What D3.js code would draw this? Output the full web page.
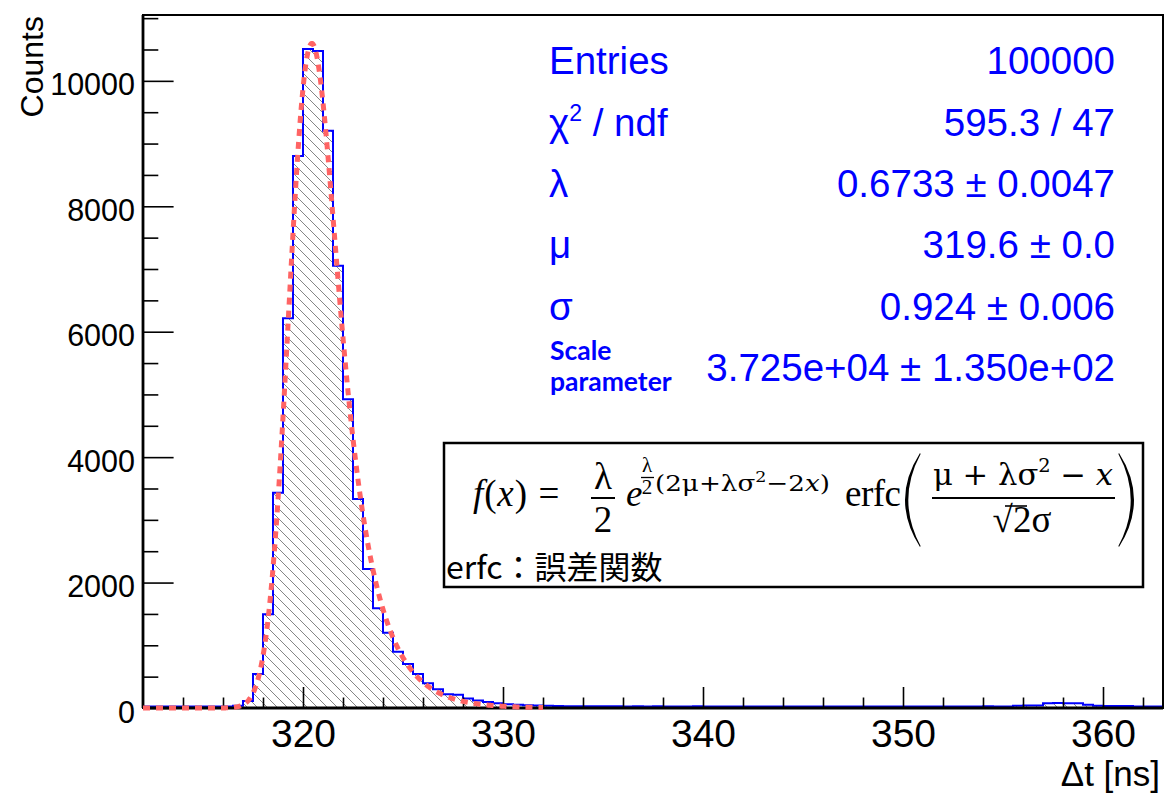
<!DOCTYPE html>
<html>
<head>
<meta charset="utf-8">
<script src="https://cdn.jsdelivr.net/npm/d3@7"></script>
<style>
  html, body { margin: 0; padding: 0; background: #ffffff; }
  svg { display: block; }
</style>
</head>
<body>
<svg id="chart" width="1165" height="795"></svg>
<script>
// ---- Histogram data: Δt in 0.5 ns bins starting at 312 ns ----
const binStart = 312;
const binWidth = 0.5;
const counts = [
  25, 25, 25, 25, 25, 25, 25, 25, 25, 35,          // 312.0 - 316.5
  110, 542, 1494, 3433, 6213, 8802, 10509, 10477,  // 317.0 - 320.5
  9206, 7053, 4923, 3333, 2217, 1590, 1201, 898,   // 321.0 - 324.5
  702, 542, 394, 298, 218, 210, 150, 120,          // 325.0 - 328.5
  95, 75, 60, 50, 45, 40, 35, 30,                  // 329.0 - 332.5
  28, 27, 28, 26, 27, 26, 25, 26, 25, 26,          // 333.0 - 337.5
  25, 24, 25, 26, 25, 24, 25, 25, 24, 25,          // 338.0 - 342.5
  25, 24, 25, 25, 24, 25, 24, 25, 25, 24,          // 343.0 - 347.5
  25, 24, 25, 24, 25, 25, 24, 25, 25, 24,          // 348.0 - 352.5
  25, 25, 26, 25, 25,                              // 353.0 - 355.0
  35, 38, 40, 75, 78, 76, 74, 50, 35, 33,          // 355.5 - 360.0
  30, 30, 25, 25, 25                               // 360.5 - 362.5
];

// ---- Axis ticks ----
const xTickValues = [320, 330, 340, 350, 360];
const xTickLabels = ["320", "330", "340", "350", "360"];
const yTickValues = [0, 2000, 4000, 6000, 8000, 10000];
const yTickLabels = ["0", "2000", "4000", "6000", "8000", "10000"];

// ---- Fit statistics box ----
const statNames  = ["Entries", "χ2 / ndf", "λ", "μ", "σ", "Scale parameter"];
const statValues = ["100000", "595.3 / 47", "0.6733 ± 0.0047", "319.6 ± 0.0",
                    "0.924 ± 0.006", "3.725e+04 ± 1.350e+02"];

// ---- Fit parameters: exponentially modified Gaussian ----
const fitLambda = 0.6733;
const fitMu = 319.6;
const fitSigma = 0.924;
const fitScale = 37250;
const fitRange = [312, 332];

// ---- Layout ----
const frame = { left: 143, right: 1163, top: 15, bottom: 708 };
const xDomain = [312, 363];
const yMax = 11050;
const blue = "#0000ff";
const fitColor = "#ff6464";
const sans = "'Liberation Sans', Arial, Helvetica, sans-serif";
const serif = "'Liberation Serif', 'Times New Roman', serif";
const mathSerif = "'DejaVu Serif', 'Liberation Serif', serif";

const svg = d3.select("#chart");

const x = d3.scaleLinear().domain(xDomain).range([frame.left, frame.right]);
const y = d3.scaleLinear().domain([0, yMax]).range([frame.bottom, frame.top]);

// Hatch pattern (\\\ lines)
const defs = svg.append("defs");
const pat = defs.append("pattern")
  .attr("id", "hatch")
  .attr("patternUnits", "userSpaceOnUse")
  .attr("width", 10).attr("height", 10);
pat.append("path")
  .attr("d", "M-5,5 L5,15 M0,0 L10,10 M5,-5 L15,5")
  .attr("stroke", "#858585").attr("stroke-width", 1).attr("fill", "none");

defs.append("clipPath").attr("id", "frameClip")
  .append("rect")
  .attr("x", frame.left).attr("y", frame.top - 5)
  .attr("width", frame.right - frame.left)
  .attr("height", frame.bottom - frame.top + 10);

// Histogram step points
const steps = counts.map((c, i) => ({ x: binStart + i * binWidth, c }));
steps.push({ x: binStart + counts.length * binWidth, c: counts[counts.length - 1] });

const plot = svg.append("g").attr("clip-path", "url(#frameClip)");

plot.append("path")
  .datum(steps)
  .attr("fill", "url(#hatch)")
  .attr("d", d3.area().curve(d3.curveStepAfter)
    .x(d => x(d.x)).y0(y(0)).y1(d => y(d.c)));

plot.append("path")
  .datum(steps)
  .attr("fill", "none")
  .attr("stroke", blue)
  .attr("stroke-width", 2)
  .attr("d", d3.line().curve(d3.curveStepAfter).x(d => x(d.x)).y(d => y(d.c)));

// ---- Axes ----
const xMinor = d3.range(314, 363, 2).filter(v => v % 10 !== 0);
svg.append("g")
  .attr("transform", `translate(0,${y(0)})`)
  .call(d3.axisBottom(x).tickValues(xMinor).tickSize(-10.5).tickFormat(""))
  .call(g => g.select(".domain").remove())
  .call(g => g.selectAll("line").attr("stroke", "#000").attr("stroke-width", 1.6));

svg.append("g")
  .attr("transform", `translate(0,${y(0)})`)
  .call(d3.axisBottom(x).tickValues(xTickValues)
    .tickFormat((d, i) => xTickLabels[i]).tickSizeInner(-21).tickSizeOuter(0))
  .call(g => g.select(".domain").remove())
  .call(g => g.selectAll("line").attr("stroke", "#000").attr("stroke-width", 1.6))
  .call(g => g.selectAll("text")
    .attr("y", 39).attr("dy", 0)
    .attr("font-size", 39).attr("font-family", sans).attr("fill", "#000"));

const yMinor = d3.range(500, yMax, 500).filter(v => v % 2000 !== 0);
svg.append("g")
  .attr("transform", `translate(${frame.left},0)`)
  .call(d3.axisLeft(y).tickValues(yMinor).tickSize(-15.3).tickFormat(""))
  .call(g => g.select(".domain").remove())
  .call(g => g.selectAll("line").attr("stroke", "#000").attr("stroke-width", 1.6));

svg.append("g")
  .attr("transform", `translate(${frame.left},0)`)
  .call(d3.axisLeft(y).tickValues(yTickValues)
    .tickFormat((d, i) => yTickLabels[i]).tickSizeInner(-30.6).tickSizeOuter(0).tickPadding(8))
  .call(g => g.select(".domain").remove())
  .call(g => g.selectAll("line").attr("stroke", "#000").attr("stroke-width", 1.6))
  .call(g => g.selectAll("text")
    .attr("dy", "0.46em")
    .attr("font-size", 30.5).attr("font-family", sans).attr("fill", "#000"));

// Frame
svg.append("rect")
  .attr("x", frame.left).attr("y", frame.top)
  .attr("width", frame.right - frame.left).attr("height", frame.bottom - frame.top)
  .attr("fill", "none").attr("stroke", "#000").attr("stroke-width", 2);
svg.append("line")
  .attr("x1", frame.left).attr("x2", frame.right)
  .attr("y1", frame.bottom).attr("y2", frame.bottom)
  .attr("stroke", "#000").attr("stroke-width", 2.8);
svg.append("line")
  .attr("x1", frame.left).attr("x2", frame.left)
  .attr("y1", frame.top).attr("y2", frame.bottom)
  .attr("stroke", "#000").attr("stroke-width", 2.8);

// ---- Fit curve ----
function erfc(v) {
  const z = Math.abs(v);
  const t = 1 / (1 + 0.5 * z);
  const r = t * Math.exp(-z * z - 1.26551223 + t * (1.00002368 + t * (0.37409196 +
    t * (0.09678418 + t * (-0.18628806 + t * (0.27886807 + t * (-1.13520398 +
    t * (1.48851587 + t * (-0.82215223 + t * 0.17087277)))))))));
  return v >= 0 ? r : 2 - r;
}
function emg(t) {
  const l = fitLambda, m = fitMu, s = fitSigma;
  return fitScale * (l / 2) * Math.exp((l / 2) * (2 * m + l * s * s - 2 * t)) *
    erfc((m + l * s * s - t) / (Math.SQRT2 * s));
}
const fitPts = d3.range(fitRange[0], fitRange[1] + 1e-9, 0.02).map(t => ({ t, v: emg(t) }));
svg.append("path")
  .datum(fitPts)
  .attr("clip-path", "url(#frameClip)")
  .attr("fill", "none")
  .attr("stroke", fitColor)
  .attr("stroke-width", 5)
  .attr("stroke-dasharray", "7 6")
  .attr("d", d3.line().x(d => x(d.t)).y(d => y(d.v)));

// ---- Axis titles ----
svg.append("text")
  .attr("transform", "translate(43,16) rotate(-90)")
  .attr("text-anchor", "end")
  .attr("font-family", sans).attr("font-size", 32)
  .text("Counts");

svg.append("text")
  .attr("x", 1160).attr("y", 786)
  .attr("text-anchor", "end")
  .attr("font-family", sans).attr("font-size", 35)
  .text("Δt [ns]");

// ---- Statistics ----
const statX0 = 549, statX1 = 1115;
const statBase = [74, 136, 197, 258, 320, 381];
const stats = svg.append("g").attr("fill", blue).attr("font-family", sans).attr("font-size", 38.5);

statNames.forEach((name, i) => {
  if (i === 1) {
    const t = stats.append("text").attr("x", statX0).attr("y", statBase[i]);
    t.append("tspan").text(name.charAt(0));
    t.append("tspan").attr("font-size", 23).attr("dy", -15).text(name.charAt(1));
    t.append("tspan").attr("dy", 15).text(name.slice(2));
  } else if (i === 5) {
    const words = name.split(" ");
    words.forEach((w, k) => {
      stats.append("text")
        .attr("x", statX0 + 1).attr("y", 360 + k * 31)
        .attr("font-family", "Lato, 'Open Sans', sans-serif")
        .attr("font-weight", "bold").attr("font-size", 26.5)
        .text(w);
    });
  } else {
    stats.append("text").attr("x", statX0).attr("y", statBase[i]).text(name);
  }
  stats.append("text")
    .attr("x", statX1).attr("y", statBase[i])
    .attr("text-anchor", "end")
    .text(statValues[i]);
});

// ---- Formula box ----
const box = svg.append("g");
box.append("rect")
  .attr("x", 444).attr("y", 443).attr("width", 699).attr("height", 144)
  .attr("fill", "#fff").attr("stroke", "#000").attr("stroke-width", 2.5);

const fx = box.append("g").attr("font-family", serif).attr("fill", "#000");
const base = 506;

const fText = fx.append("text").attr("x", 473).attr("y", base).attr("font-size", 37)
  .attr("textLength", 54).attr("lengthAdjust", "spacing");
fText.append("tspan").attr("font-style", "italic").text("f");
fText.append("tspan").text("(");
fText.append("tspan").attr("font-style", "italic").text("x");
fText.append("tspan").text(")");

fx.append("text").attr("x", 549).attr("y", base).attr("text-anchor", "middle")
  .attr("font-size", 37).text("=");

// λ / 2
fx.append("text").attr("x", 603).attr("y", 489).attr("text-anchor", "middle")
  .attr("font-size", 37).text("λ");
fx.append("line").attr("x1", 591).attr("x2", 615).attr("y1", 498).attr("y2", 498)
  .attr("stroke", "#000").attr("stroke-width", 2);
fx.append("text").attr("x", 603).attr("y", 532).attr("text-anchor", "middle")
  .attr("font-size", 37).text("2");

// e^{...}
fx.append("text").attr("x", 626).attr("y", base).attr("font-size", 37)
  .attr("font-style", "italic").text("e");
fx.append("text").attr("x", 647).attr("y", 472).attr("text-anchor", "middle")
  .attr("font-size", 21).text("λ");
fx.append("line").attr("x1", 641).attr("x2", 654).attr("y1", 477.5).attr("y2", 477.5)
  .attr("stroke", "#000").attr("stroke-width", 1.3);
fx.append("text").attr("x", 647).attr("y", 494).attr("text-anchor", "middle")
  .attr("font-size", 21).text("2");
const ex = fx.append("text").attr("x", 655).attr("y", 491)
  .attr("font-family", mathSerif).attr("font-size", 22.5)
  .attr("textLength", 175).attr("lengthAdjust", "spacingAndGlyphs");
ex.append("tspan").text("(2μ+λσ");
ex.append("tspan").attr("font-size", 15).attr("dy", -9).text("2");
ex.append("tspan").attr("dy", 9).text("−2");
ex.append("tspan").attr("font-style", "italic").text("x");
ex.append("tspan").text(")");

fx.append("text").attr("x", 845).attr("y", base).attr("font-size", 37)
  .attr("textLength", 56).attr("lengthAdjust", "spacing").text("erfc");

// Large parentheses
function paren(x0, dir) {
  const top = 453, bot = 547, mid = (top + bot) / 2;
  const b = 15 * dir, w = 3 * dir;
  return `M${x0},${top} Q${x0 - b * 2},${mid} ${x0},${bot} L${x0 + w * 0.2},${bot - 1} Q${x0 - b * 2 + w * 2},${mid} ${x0 + w * 0.2},${top + 1} Z`;
}
fx.append("path").attr("d", paren(920, 1)).attr("fill", "#000");
fx.append("path").attr("d", paren(1119, -1)).attr("fill", "#000");

// (μ + λσ² − x) / (√2 σ)
const num = fx.append("text").attr("x", 933).attr("y", 485)
  .attr("font-family", mathSerif).attr("font-size", 30)
  .attr("textLength", 180).attr("lengthAdjust", "spacingAndGlyphs");
num.append("tspan").text("μ + λσ");
num.append("tspan").attr("font-size", 19).attr("dy", -13).text("2");
num.append("tspan").attr("dy", 13).text(" − ");
num.append("tspan").attr("font-style", "italic").text("x");
fx.append("line").attr("x1", 932).attr("x2", 1115).attr("y1", 498).attr("y2", 498)
  .attr("stroke", "#000").attr("stroke-width", 2);
fx.append("text").attr("x", 1022).attr("y", 532).attr("text-anchor", "middle")
  .attr("font-size", 37).text("√2σ");
fx.append("line").attr("x1", 1005).attr("x2", 1027).attr("y1", 506).attr("y2", 506)
  .attr("stroke", "#000").attr("stroke-width", 1.6);

box.append("text")
  .attr("x", 446).attr("y", 579)
  .attr("font-family", "'Noto Sans CJK JP', 'Noto Sans', sans-serif")
  .attr("font-size", 32).attr("fill", "#000")
  .text("erfc：誤差関数");
</script>
</body>
</html>
